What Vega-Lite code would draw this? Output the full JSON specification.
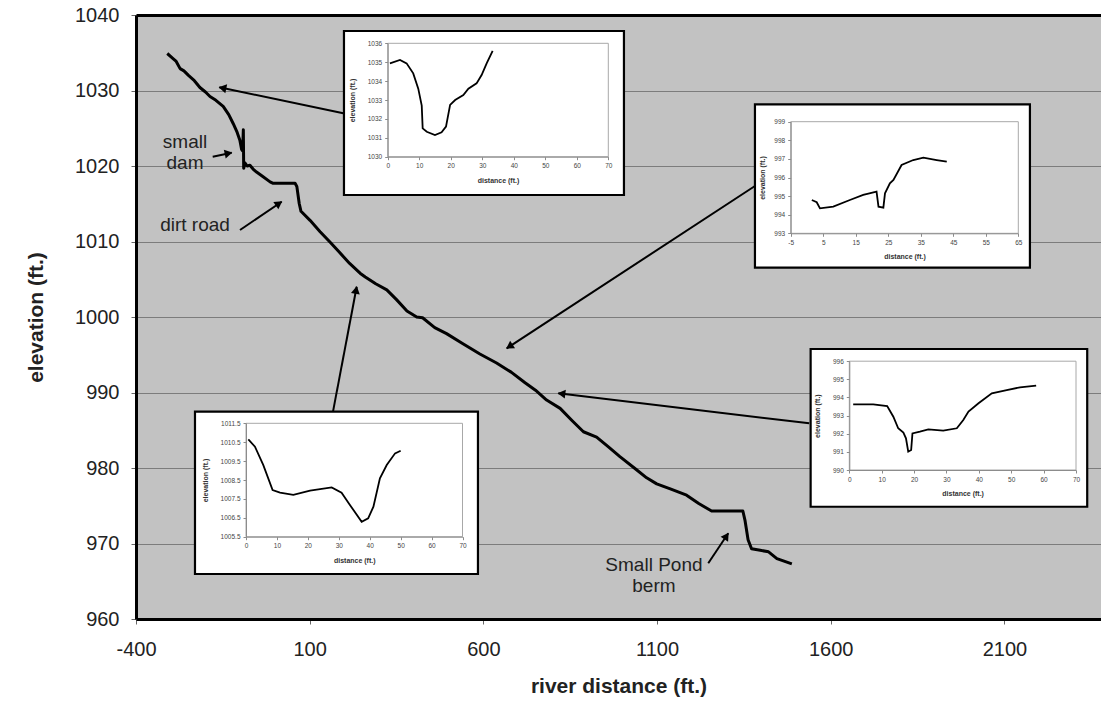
{
 "$schema": "https://vega.github.io/schema/vega-lite/v6.json",
 "autosize": {"type": "none"},
 "padding": {"left": 136, "top": 15, "right": 0, "bottom": 83},
 "width": 965,
 "height": 604,
 "background": "#ffffff",
 "config": {
  "font": "Liberation Sans",
  "view": {"fill": "#c2c2c2", "stroke": null},
  "axis": {"labelFont": "Liberation Sans", "titleFont": "Liberation Sans", "labelExpr": "datum.value + ''"}
 },
 "datasets": {
  "profile": [
   {"i":1,"x":-310,"y":1034.9},{"i":2,"x":-295,"y":1034.3},{"i":3,"x":-285,"y":1033.9},{"i":4,"x":-273,"y":1032.9},
   {"i":5,"x":-262,"y":1032.6},{"i":6,"x":-249,"y":1032.0},{"i":7,"x":-232,"y":1031.3},{"i":8,"x":-216,"y":1030.4},
   {"i":9,"x":-200,"y":1029.8},{"i":10,"x":-187,"y":1029.2},{"i":11,"x":-170,"y":1028.7},{"i":12,"x":-149,"y":1027.9},
   {"i":13,"x":-133,"y":1026.8},{"i":14,"x":-120,"y":1025.6},{"i":15,"x":-110,"y":1024.6},{"i":16,"x":-101,"y":1023.4},
   {"i":17,"x":-96,"y":1022.2},{"i":18,"x":-93,"y":1022.0},{"i":19,"x":-91,"y":1024.8},{"i":20,"x":-90,"y":1019.7},
   {"i":21,"x":-86,"y":1020.4},{"i":22,"x":-80,"y":1020.0},{"i":23,"x":-72,"y":1020.1},{"i":24,"x":-63,"y":1019.6},
   {"i":25,"x":-53,"y":1019.2},{"i":26,"x":-35,"y":1018.6},{"i":27,"x":-14,"y":1017.9},{"i":28,"x":-5,"y":1017.7},
   {"i":29,"x":58,"y":1017.7},{"i":30,"x":63,"y":1017.3},{"i":31,"x":70,"y":1015.0},{"i":32,"x":75,"y":1014.0},
   {"i":33,"x":101,"y":1012.8},{"i":34,"x":130,"y":1011.3},{"i":35,"x":159,"y":1009.9},{"i":36,"x":185,"y":1008.6},
   {"i":37,"x":215,"y":1007.1},{"i":38,"x":245,"y":1005.8},{"i":39,"x":260,"y":1005.3},{"i":40,"x":290,"y":1004.4},
   {"i":41,"x":322,"y":1003.6},{"i":42,"x":350,"y":1002.3},{"i":43,"x":380,"y":1000.8},{"i":44,"x":408,"y":1000.0},
   {"i":45,"x":425,"y":999.9},{"i":46,"x":460,"y":998.6},{"i":47,"x":494,"y":997.8},{"i":48,"x":540,"y":996.5},
   {"i":49,"x":590,"y":995.1},{"i":50,"x":638,"y":993.9},{"i":51,"x":680,"y":992.7},{"i":52,"x":720,"y":991.3},
   {"i":53,"x":750,"y":990.3},{"i":54,"x":782,"y":989.0},{"i":55,"x":821,"y":987.9},{"i":56,"x":855,"y":986.3},
   {"i":57,"x":888,"y":984.8},{"i":58,"x":926,"y":984.1},{"i":59,"x":960,"y":982.8},{"i":60,"x":993,"y":981.5},
   {"i":61,"x":1040,"y":979.8},{"i":62,"x":1070,"y":978.7},{"i":63,"x":1099,"y":977.9},{"i":64,"x":1140,"y":977.2},
   {"i":65,"x":1185,"y":976.4},{"i":66,"x":1220,"y":975.3},{"i":67,"x":1257,"y":974.3},{"i":68,"x":1347,"y":974.3},
   {"i":69,"x":1353,"y":973.1},{"i":70,"x":1362,"y":970.5},{"i":71,"x":1372,"y":969.3},{"i":72,"x":1397,"y":969.1},
   {"i":73,"x":1421,"y":968.9},{"i":74,"x":1445,"y":968.0},{"i":75,"x":1488,"y":967.3}
  ],
  "arrows": [
   {"id":"A1","x":196.7,"y":1026.98,"x2":-160.2,"y2":1030.42,"hx":-147.5,"hy":1030.30},
   {"id":"A2","x":-179.2,"y":1021.23,"x2":-124.5,"y2":1021.76,"hx":-137.2,"hy":1021.64},
   {"id":"A3","x":-100.6,"y":1011.52,"x2":19.4,"y2":1015.27,"hx":8.7,"hy":1014.94},
   {"id":"A4","x":167.1,"y":987.46,"x2":235.3,"y2":1004.01,"hx":232.9,"hy":1003.42},
   {"id":"A5","x":1381.8,"y":1017.35,"x2":667.1,"y2":995.85,"hx":677.9,"hy":996.18},
   {"id":"A6","x":1538.1,"y":985.92,"x2":815.6,"y2":989.89,"hx":828.5,"hy":989.82},
   {"id":"A7","x":1247.4,"y":967.38,"x2":1305.0,"y2":971.35,"hx":1297.8,"hy":970.85}
  ],
  "notes": [
   {"label":"small\ndam","x":-259,"y":1023.22},
   {"label":"dirt road","x":-230.2,"y":1012.19},
   {"label":"Small Pond\nberm","x":1091,"y":967.15}
  ],
  "boxes": [
   {"x":198.7,"x2":1004.7,"y":1037.88,"y2":1016.16},
   {"x":1381.8,"x2":2173.4,"y":1028.17,"y2":1006.53},
   {"x":-230.2,"x2":584.4,"y":987.46,"y2":965.96},
   {"x":1542.1,"x2":2338.3,"y":995.76,"y2":974.87}
  ],
  "inset1": [
   {"d":0.7,"e":1034.94},{"d":3.9,"e":1035.12},{"d":6.0,"e":1034.94},{"d":8.1,"e":1034.41},{"d":9.7,"e":1033.6},
   {"d":10.8,"e":1032.7},{"d":11.1,"e":1031.5},{"d":12.4,"e":1031.32},{"d":15.0,"e":1031.15},{"d":17.1,"e":1031.29},
   {"d":18.5,"e":1031.59},{"d":19.8,"e":1032.74},{"d":21.4,"e":1033.0},{"d":24.0,"e":1033.26},{"d":25.6,"e":1033.6},
   {"d":28.2,"e":1033.88},{"d":29.8,"e":1034.32},{"d":31.4,"e":1034.94},{"d":33.3,"e":1035.6}
  ],
  "inset2": [
   {"d":1.5,"e":994.79},{"d":3.0,"e":994.67},{"d":4.0,"e":994.34},{"d":8.1,"e":994.43},{"d":13.2,"e":994.79},
   {"d":17.3,"e":995.06},{"d":21.4,"e":995.24},{"d":22.0,"e":994.43},{"d":23.5,"e":994.38},{"d":24.0,"e":995.15},
   {"d":25.5,"e":995.69},{"d":26.6,"e":995.87},{"d":29.1,"e":996.67},{"d":32.7,"e":996.94},{"d":35.8,"e":997.07},
   {"d":39.9,"e":996.94},{"d":43.0,"e":996.85}
  ],
  "inset3": [
   {"d":0.75,"e":1010.65},{"d":2.9,"e":1010.26},{"d":5.6,"e":1009.29},{"d":8.6,"e":1007.97},{"d":11.0,"e":1007.83},
   {"d":15.3,"e":1007.71},{"d":20.7,"e":1007.94},{"d":27.7,"e":1008.11},{"d":30.9,"e":1007.83},{"d":33.6,"e":1007.18},
   {"d":37.4,"e":1006.29},{"d":39.5,"e":1006.47},{"d":41.2,"e":1007.09},{"d":43.3,"e":1008.59},{"d":45.5,"e":1009.29},
   {"d":48.2,"e":1009.91},{"d":50.0,"e":1010.05}
  ],
  "inset4": [
   {"d":1.2,"e":993.62},{"d":7.4,"e":993.62},{"d":11.7,"e":993.53},{"d":13.6,"e":992.94},{"d":15.1,"e":992.30},
   {"d":16.7,"e":992.06},{"d":17.5,"e":991.75},{"d":18.2,"e":991.01},{"d":19.1,"e":991.10},{"d":19.5,"e":992.02},
   {"d":21.8,"e":992.11},{"d":24.4,"e":992.24},{"d":29.0,"e":992.17},{"d":33.2,"e":992.30},{"d":35.2,"e":992.76},
   {"d":36.8,"e":993.22},{"d":39.9,"e":993.68},{"d":44.0,"e":994.23},{"d":48.6,"e":994.41},{"d":52.7,"e":994.56},
   {"d":57.7,"e":994.65}
  ]
 },
 "layer": [
  {
   "layer": [
    {
     "data": {"name": "profile"},
     "mark": {"type": "line", "color": "black", "strokeWidth": 3, "strokeJoin": "round"},
     "encoding": {
      "x": {"field": "x", "type": "quantitative", "scale": {"domain": [-400, 2378], "nice": false, "zero": false},
       "axis": {"orient": "bottom", "values": [-400, 100, 600, 1100, 1600, 2100], "grid": false, "domainColor": "black", "domainWidth": 3, "tickColor": "#666", "tickSize": 5, "labelFontSize": 20, "labelColor": "#222", "labelPadding": 15, "labelFlush": false, "title": "river distance (ft.)", "titleFontSize": 21, "titleFontWeight": "bold", "titleColor": "#222", "titlePadding": 16}},
      "y": {"field": "y", "type": "quantitative", "scale": {"domain": [960, 1040], "nice": false, "zero": false},
       "axis": {"orient": "left", "values": [960, 970, 980, 990, 1000, 1010, 1020, 1030, 1040], "grid": true, "gridColor": "#7c7c7c", "gridWidth": 1, "domainColor": "black", "domainWidth": 3, "tickColor": "#666", "tickSize": 5, "labelFontSize": 20, "labelColor": "#222", "labelPadding": 12, "labelFlush": false, "title": "elevation (ft.)", "titleFontSize": 21, "titleFontWeight": "bold", "titleColor": "#222", "titlePadding": 28}},
      "order": {"field": "i", "type": "quantitative"}
     }
    },
    {
     "data": {"name": "arrows"},
     "mark": {"type": "rule", "color": "black", "strokeWidth": 2},
     "encoding": {
      "x": {"field": "x", "type": "quantitative"},
      "y": {"field": "y", "type": "quantitative"},
      "x2": {"field": "x2"},
      "y2": {"field": "y2"}
     }
    },
    {"data": {"name": "arrows"}, "transform": [{"filter": {"field": "id", "equal": "A1"}}],
     "mark": {"type": "point", "shape": "triangle", "filled": true, "color": "black", "opacity": 1, "size": 80, "angle": 281.5},
     "encoding": {"x": {"field": "hx", "type": "quantitative"}, "y": {"field": "hy", "type": "quantitative"}}},
    {"data": {"name": "arrows"}, "transform": [{"filter": {"field": "id", "equal": "A2"}}],
     "mark": {"type": "point", "shape": "triangle", "filled": true, "color": "black", "opacity": 1, "size": 80, "angle": 78.1},
     "encoding": {"x": {"field": "hx", "type": "quantitative"}, "y": {"field": "hy", "type": "quantitative"}}},
    {"data": {"name": "arrows"}, "transform": [{"filter": {"field": "id", "equal": "A3"}}],
     "mark": {"type": "point", "shape": "triangle", "filled": true, "color": "black", "opacity": 1, "size": 80, "angle": 55.8},
     "encoding": {"x": {"field": "hx", "type": "quantitative"}, "y": {"field": "hy", "type": "quantitative"}}},
    {"data": {"name": "arrows"}, "transform": [{"filter": {"field": "id", "equal": "A4"}}],
     "mark": {"type": "point", "shape": "triangle", "filled": true, "color": "black", "opacity": 1, "size": 80, "angle": 10.7},
     "encoding": {"x": {"field": "hx", "type": "quantitative"}, "y": {"field": "hy", "type": "quantitative"}}},
    {"data": {"name": "arrows"}, "transform": [{"filter": {"field": "id", "equal": "A5"}}],
     "mark": {"type": "point", "shape": "triangle", "filled": true, "color": "black", "opacity": 1, "size": 80, "angle": 236.8},
     "encoding": {"x": {"field": "hx", "type": "quantitative"}, "y": {"field": "hy", "type": "quantitative"}}},
    {"data": {"name": "arrows"}, "transform": [{"filter": {"field": "id", "equal": "A6"}}],
     "mark": {"type": "point", "shape": "triangle", "filled": true, "color": "black", "opacity": 1, "size": 80, "angle": 276.8},
     "encoding": {"x": {"field": "hx", "type": "quantitative"}, "y": {"field": "hy", "type": "quantitative"}}},
    {"data": {"name": "arrows"}, "transform": [{"filter": {"field": "id", "equal": "A7"}}],
     "mark": {"type": "point", "shape": "triangle", "filled": true, "color": "black", "opacity": 1, "size": 80, "angle": 33.7},
     "encoding": {"x": {"field": "hx", "type": "quantitative"}, "y": {"field": "hy", "type": "quantitative"}}},
    {
     "data": {"name": "notes"},
     "mark": {"type": "text", "fontSize": 19, "lineBreak": "\n", "lineHeight": 21, "color": "#222", "align": "center", "baseline": "middle"},
     "encoding": {
      "x": {"field": "x", "type": "quantitative"},
      "y": {"field": "y", "type": "quantitative"},
      "text": {"field": "label"}
     }
    },
    {
     "data": {"name": "boxes"},
     "mark": {"type": "rect", "fill": "white", "stroke": "black", "strokeWidth": 2.2},
     "encoding": {
      "x": {"field": "x", "type": "quantitative"},
      "x2": {"field": "x2"},
      "y": {"field": "y", "type": "quantitative"},
      "y2": {"field": "y2"}
     }
    }
   ]
  },
  {
   "data": {"values": [{}]},
   "mark": {"type": "rule", "opacity": 0},
   "encoding": {
    "x": {"datum": -400, "type": "quantitative", "scale": {"domain": [-400, 2378], "nice": false, "zero": false},
     "axis": {"orient": "top", "labels": false, "ticks": false, "grid": false, "domainColor": "black", "domainWidth": 3, "title": null, "zindex": 1}}
   }
  },
  {
   "layer": [
    {
     "data": {"values": [{}]},
     "mark": {"type": "rect", "fill": null, "stroke": "#a8a8a8", "strokeWidth": 1},
     "encoding": {
      "x": {"datum": 0, "type": "quantitative", "scale": {"domain": [0, 70], "range": [251.7, 472.3], "nice": false, "zero": false},
       "axis": {"orient": "bottom", "offset": -462.3, "values": [0,10,20,30,40,50,60,70], "grid": false, "domainColor": "#8c8c8c", "tickColor": "#8c8c8c", "tickSize": 3, "labelFontSize": 6.5, "labelColor": "#444", "labelPadding": 3, "labelFlush": false, "labelOverlap": false, "title": "distance (ft.)", "titleFontSize": 7, "titleFontWeight": "bold", "titleColor": "#333", "titlePadding": 7, "zindex": 1}},
      "x2": {"datum": 70},
      "y": {"datum": 1030, "type": "quantitative", "scale": {"domain": [1030, 1036], "range": [141.7, 28.3], "nice": false, "zero": false},
       "axis": {"orient": "left", "offset": -251.7, "values": [1030,1031,1032,1033,1034,1035,1036], "grid": false, "domainColor": "#8c8c8c", "tickColor": "#8c8c8c", "tickSize": 3, "labelFontSize": 6.5, "labelColor": "#444", "labelPadding": 3, "labelFlush": false, "labelOverlap": false, "title": "elevation (ft.)", "titleFontSize": 7, "titleFontWeight": "bold", "titleColor": "#333", "titlePadding": 12, "zindex": 1}},
      "y2": {"datum": 1036}
     }
    },
    {
     "data": {"name": "inset1"},
     "mark": {"type": "line", "color": "black", "strokeWidth": 1.8},
     "encoding": {"x": {"field": "d", "type": "quantitative"}, "y": {"field": "e", "type": "quantitative"}}
    }
   ]
  },
  {
   "layer": [
    {
     "data": {"values": [{}]},
     "mark": {"type": "rect", "fill": null, "stroke": "#a8a8a8", "strokeWidth": 1},
     "encoding": {
      "x": {"datum": -5, "type": "quantitative", "scale": {"domain": [-5, 65], "range": [654.7, 882.3], "nice": false, "zero": false},
       "axis": {"orient": "bottom", "offset": -385.7, "values": [-5,5,15,25,35,45,55,65], "grid": false, "domainColor": "#8c8c8c", "tickColor": "#8c8c8c", "tickSize": 3, "labelFontSize": 6.5, "labelColor": "#444", "labelPadding": 3, "labelFlush": false, "labelOverlap": false, "title": "distance (ft.)", "titleFontSize": 7, "titleFontWeight": "bold", "titleColor": "#333", "titlePadding": 7, "zindex": 1}},
      "x2": {"datum": 65},
      "y": {"datum": 993, "type": "quantitative", "scale": {"domain": [993, 999], "range": [218.3, 106.7], "nice": false, "zero": false},
       "axis": {"orient": "left", "offset": -654.7, "values": [993,994,995,996,997,998,999], "grid": false, "domainColor": "#8c8c8c", "tickColor": "#8c8c8c", "tickSize": 3, "labelFontSize": 6.5, "labelColor": "#444", "labelPadding": 3, "labelFlush": false, "labelOverlap": false, "title": "elevation (ft.)", "titleFontSize": 7, "titleFontWeight": "bold", "titleColor": "#333", "titlePadding": 8, "zindex": 1}},
      "y2": {"datum": 999}
     }
    },
    {
     "data": {"name": "inset2"},
     "mark": {"type": "line", "color": "black", "strokeWidth": 1.8},
     "encoding": {"x": {"field": "d", "type": "quantitative"}, "y": {"field": "e", "type": "quantitative"}}
    }
   ]
  },
  {
   "layer": [
    {
     "data": {"values": [{}]},
     "mark": {"type": "rect", "fill": null, "stroke": "#a8a8a8", "strokeWidth": 1},
     "encoding": {
      "x": {"datum": 0, "type": "quantitative", "scale": {"domain": [0, 70], "range": [110, 326.5], "nice": false, "zero": false},
       "axis": {"orient": "bottom", "offset": -82.3, "values": [0,10,20,30,40,50,60,70], "grid": false, "domainColor": "#8c8c8c", "tickColor": "#8c8c8c", "tickSize": 3, "labelFontSize": 6.5, "labelColor": "#444", "labelPadding": 3, "labelFlush": false, "labelOverlap": false, "title": "distance (ft.)", "titleFontSize": 7, "titleFontWeight": "bold", "titleColor": "#333", "titlePadding": 7, "zindex": 1}},
      "x2": {"datum": 70},
      "y": {"datum": 1005.5, "type": "quantitative", "scale": {"domain": [1005.5, 1011.5], "range": [521.7, 408.3], "nice": false, "zero": false},
       "axis": {"orient": "left", "offset": -110, "values": [1005.5,1006.5,1007.5,1008.5,1009.5,1010.5,1011.5], "grid": false, "domainColor": "#8c8c8c", "tickColor": "#8c8c8c", "tickSize": 3, "labelFontSize": 6.5, "labelColor": "#444", "labelPadding": 3, "labelFlush": false, "labelOverlap": false, "title": "elevation (ft.)", "titleFontSize": 7, "titleFontWeight": "bold", "titleColor": "#333", "titlePadding": 12, "zindex": 1}},
      "y2": {"datum": 1011.5}
     }
    },
    {
     "data": {"name": "inset3"},
     "mark": {"type": "line", "color": "black", "strokeWidth": 1.8},
     "encoding": {"x": {"field": "d", "type": "quantitative"}, "y": {"field": "e", "type": "quantitative"}}
    }
   ]
  },
  {
   "layer": [
    {
     "data": {"values": [{}]},
     "mark": {"type": "rect", "fill": null, "stroke": "#a8a8a8", "strokeWidth": 1},
     "encoding": {
      "x": {"datum": 0, "type": "quantitative", "scale": {"domain": [0, 70], "range": [713.3, 940], "nice": false, "zero": false},
       "axis": {"orient": "bottom", "offset": -149, "values": [0,10,20,30,40,50,60,70], "grid": false, "domainColor": "#8c8c8c", "tickColor": "#8c8c8c", "tickSize": 3, "labelFontSize": 6.5, "labelColor": "#444", "labelPadding": 3, "labelFlush": false, "labelOverlap": false, "title": "distance (ft.)", "titleFontSize": 7, "titleFontWeight": "bold", "titleColor": "#333", "titlePadding": 7, "zindex": 1}},
      "x2": {"datum": 70},
      "y": {"datum": 990, "type": "quantitative", "scale": {"domain": [990, 996], "range": [455, 346.2], "nice": false, "zero": false},
       "axis": {"orient": "left", "offset": -713.3, "values": [990,991,992,993,994,995,996], "grid": false, "domainColor": "#8c8c8c", "tickColor": "#8c8c8c", "tickSize": 3, "labelFontSize": 6.5, "labelColor": "#444", "labelPadding": 3, "labelFlush": false, "labelOverlap": false, "title": "elevation (ft.)", "titleFontSize": 7, "titleFontWeight": "bold", "titleColor": "#333", "titlePadding": 12, "zindex": 1}},
      "y2": {"datum": 996}
     }
    },
    {
     "data": {"name": "inset4"},
     "mark": {"type": "line", "color": "black", "strokeWidth": 1.8},
     "encoding": {"x": {"field": "d", "type": "quantitative"}, "y": {"field": "e", "type": "quantitative"}}
    }
   ]
  }
 ],
 "resolve": {"scale": {"x": "independent", "y": "independent"}, "axis": {"x": "independent", "y": "independent"}}
}
